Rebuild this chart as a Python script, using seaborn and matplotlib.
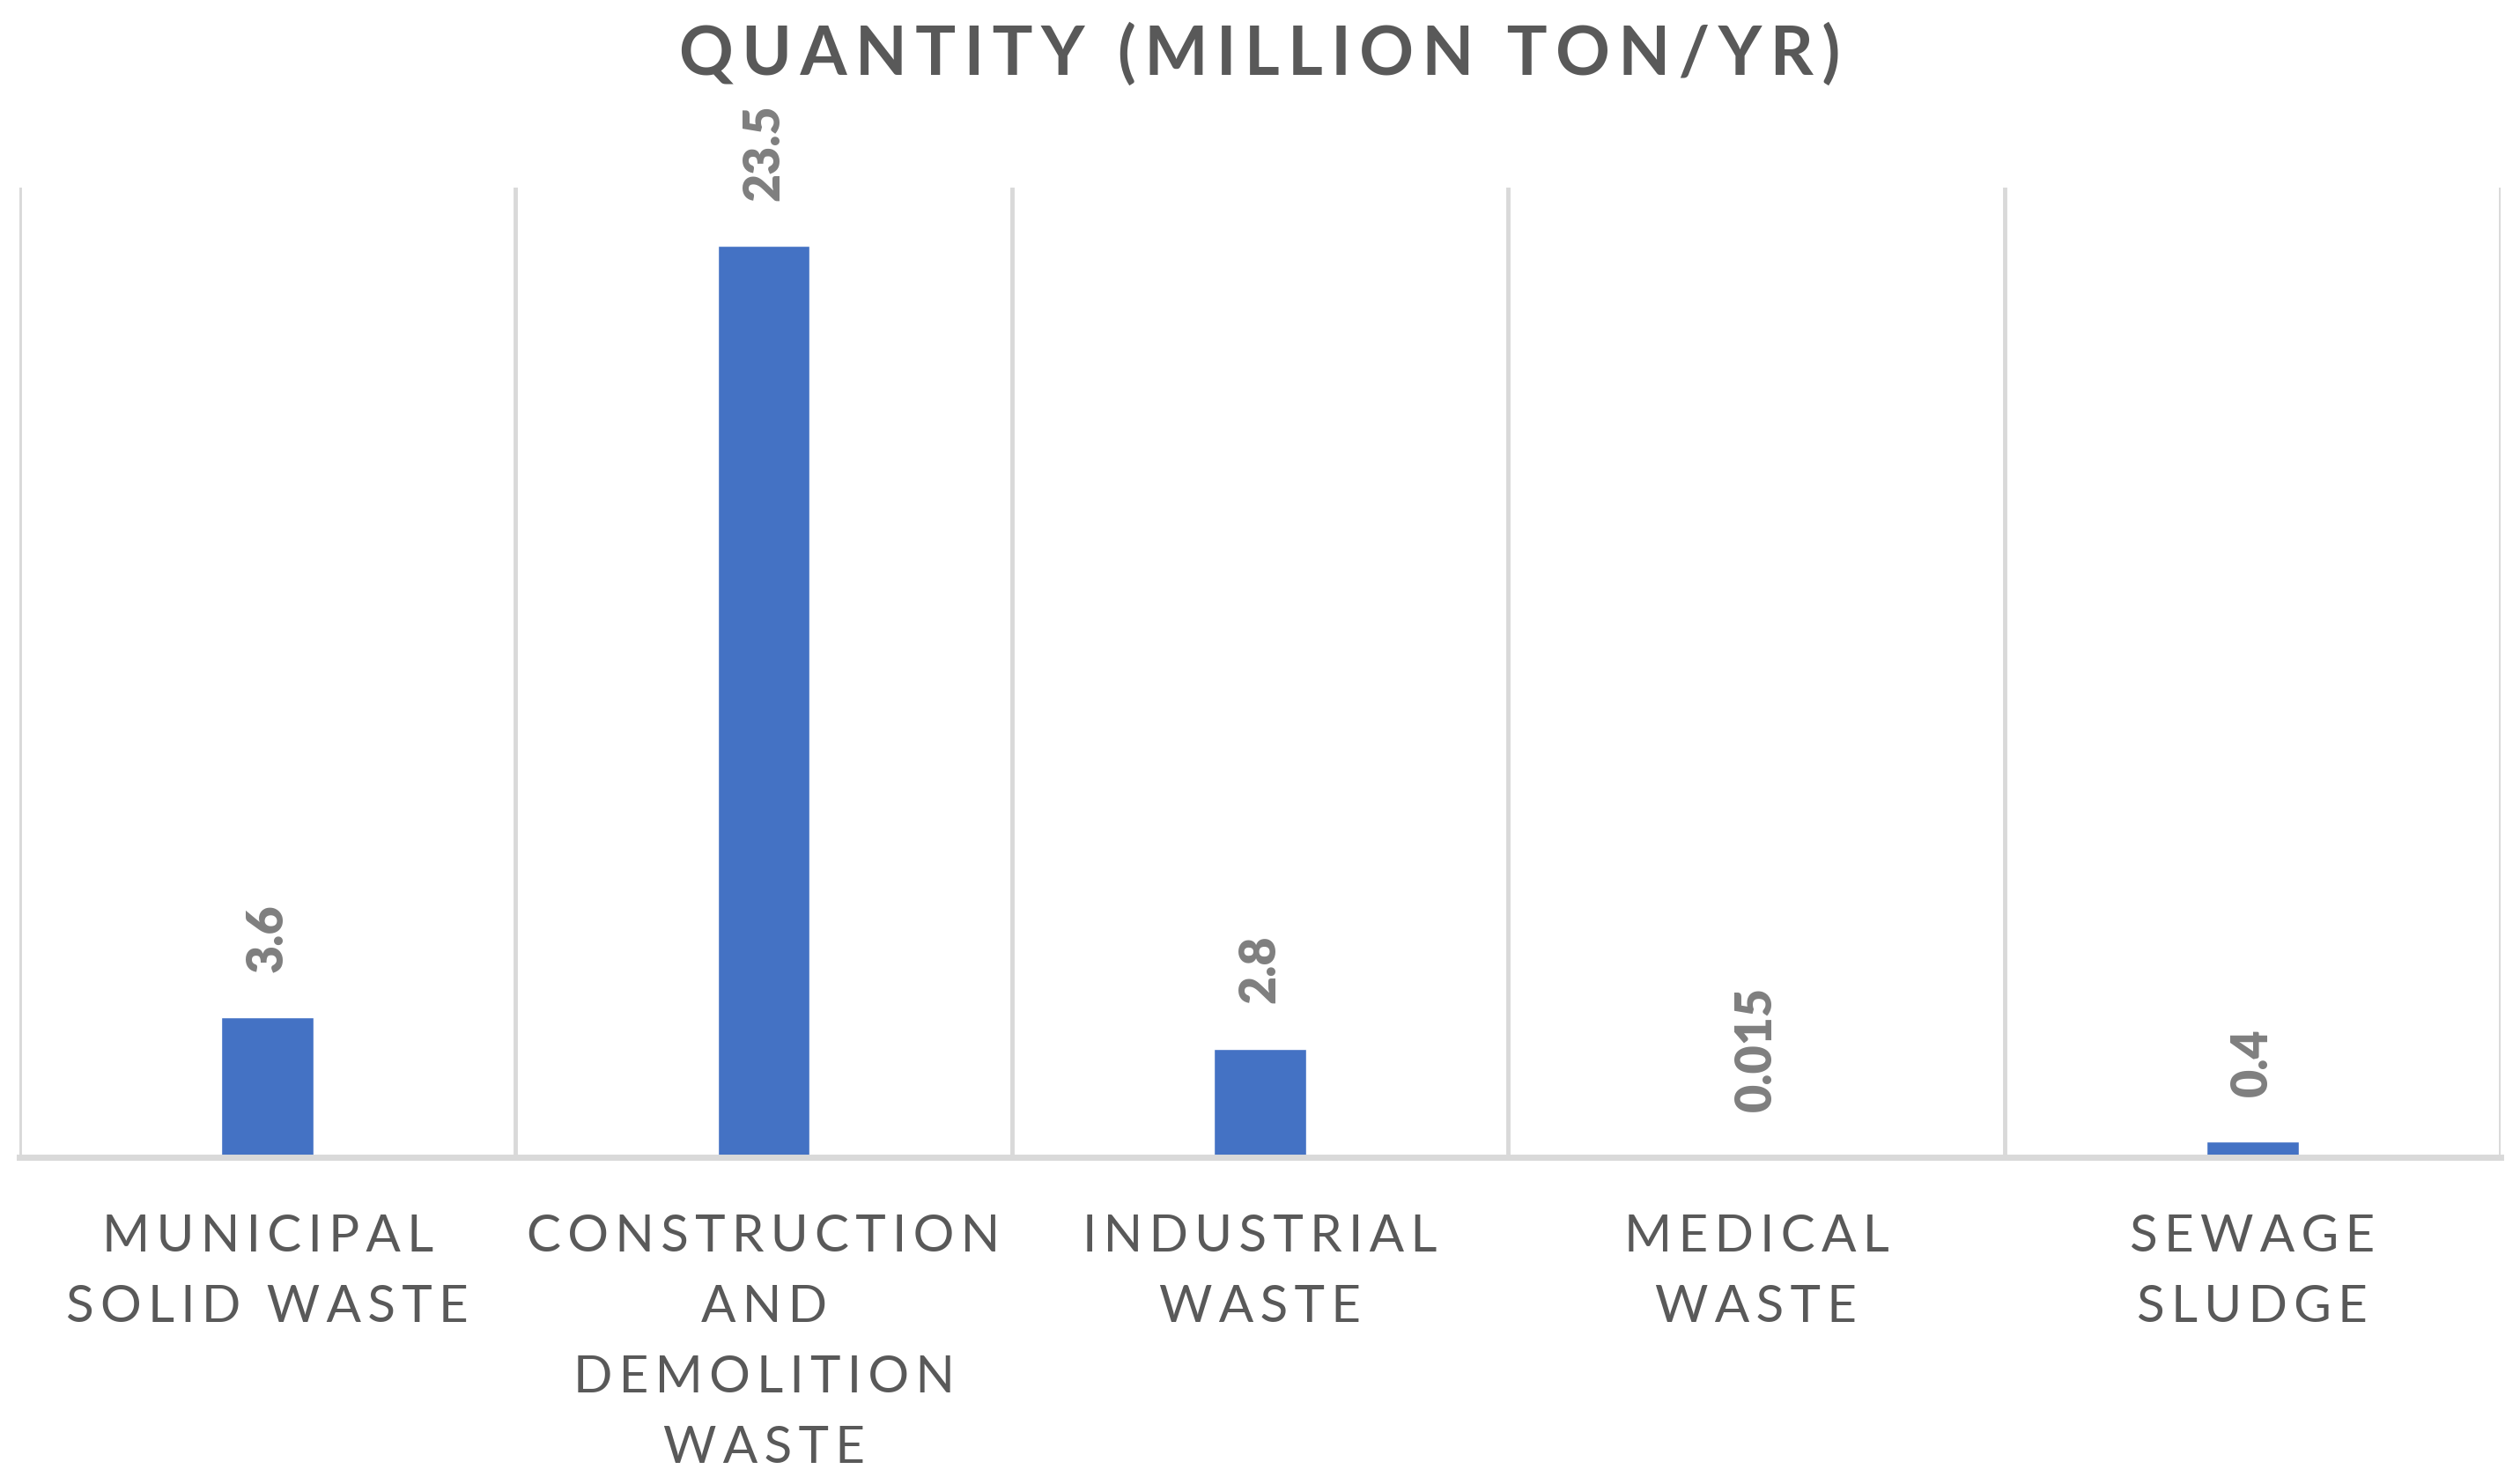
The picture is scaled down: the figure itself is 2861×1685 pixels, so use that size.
import matplotlib
matplotlib.use("Agg")
import matplotlib.pyplot as plt
import seaborn as sns
import pandas as pd

categories = ["MUNICIPAL\nSOLID WASTE", "CONSTRUCTION\nAND\nDEMOLITION\nWASTE",
              "INDUSTRIAL\nWASTE", "MEDICAL\nWASTE", "SEWAGE\nSLUDGE"]
values = [3.6, 23.5, 2.8, 0.015, 0.4]
value_labels = ["3.6", "23.5", "2.8", "0.015", "0.4"]
title = "QUANTITY (MILLION TON/YR)"

HAIR = "\u200a"

def spaced(s, n=1):
    return "\n".join((HAIR * n).join(line) for line in s.split("\n"))

sns.set_theme(style="white")
plt.rcParams['font.family'] = ['Lato', 'DejaVu Sans']

W, H, DPI = 2861, 1685, 100
fig = plt.figure(figsize=(W / DPI, H / DPI), dpi=DPI)
ax = fig.add_axes([22 / W, 1 - 1314 / H, (2839 - 22) / W, (1314 - 213) / H])

df = pd.DataFrame({"cat": categories, "val": values})
sns.barplot(data=df, x="cat", y="val", color="#4472C4", saturation=1,
            width=0.186, ax=ax, zorder=3)

ax.set_xlim(-0.5, 4.5)
ax.set_ylim(0, 25)
for i in range(6):
    ax.axvline(i - 0.5, color="#d9d9d9", lw=3.5, zorder=1)

for s in ["top", "left", "right"]:
    ax.spines[s].set_visible(False)
ax.spines["bottom"].set_color("#d9d9d9")
ax.spines["bottom"].set_linewidth(5)
ax.spines["bottom"].set_zorder(4)
ax.set_yticks([])
ax.set_ylabel("")
ax.set_xlabel("")

ax.set_xticks(range(len(categories)))
ax.set_xticklabels([spaced(c, 2) for c in categories], fontsize=42,
                   color="#595959", linespacing=1.63, va="top")
ax.tick_params(axis="x", length=0, pad=46)

for i, (v, lab) in enumerate(zip(values, value_labels)):
    ax.annotate(lab, xy=(i, v), xytext=(0, 37), textcoords="offset points",
                rotation=90, ha="center", va="bottom", fontsize=40,
                fontweight="heavy", color="#7f7f7f")

fig.text(0.5, 1 - 85 / H, spaced(title, 2), ha="center", va="baseline",
         fontsize=55, fontweight="bold", color="#595959")

fig.savefig("out.png", dpi=DPI, facecolor="white")
